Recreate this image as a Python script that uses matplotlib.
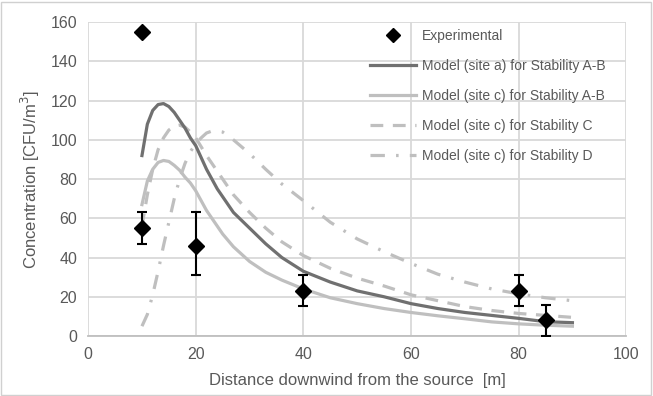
import numpy as np
import matplotlib
matplotlib.use("Agg")
import matplotlib.pyplot as plt
from matplotlib.lines import Line2D

plt.rcParams['font.family'] = ['Liberation Sans', 'DejaVu Sans']

# experimental points
exp_x = [10, 10, 20, 40, 80, 85]
exp_y = [155, 55, 46, 23, 23, 8]
exp_lo = [0, 8, 15, 7.5, 7.5, 8]
exp_hi = [0, 8, 17, 8, 8, 8]

# model curves
xa = [10, 11, 12, 13, 14, 15, 16, 17, 18, 19, 20, 21, 22, 23, 24, 25, 27, 30,
      33, 36, 40, 45, 50, 55, 60, 65, 70, 75, 80, 85, 90]
site_a_ab = [92, 108, 115, 118, 118.5, 117, 114, 110, 106, 101, 97, 91, 85, 80,
             75, 71, 63, 55, 47, 40, 33, 27.5, 23, 20, 16.5, 14, 12, 10.5, 9, 7.3, 6.8]
site_c_ab = [67, 79, 85, 88.5, 89.5, 89, 87, 84.5, 81, 78, 74, 69, 64, 60,
             56, 52, 45.5, 38, 32.5, 28.5, 24, 19.5, 16.5, 14, 12, 10.3, 8.8, 7.2, 6.2, 5.5, 5]
site_c_c = [56, 72, 85, 95, 101, 105, 107, 107.5, 106.5, 104, 101, 96.5, 92, 88,
            84, 80, 72, 63, 55, 48, 41, 34.5, 29.5, 25.5, 21, 18, 15, 13, 11.5, 10.5, 9.5]
site_c_d = [5, 11, 21, 33, 46, 58, 70, 80, 88, 94, 98, 101, 103.5, 104.5,
            104.5, 104, 100, 93, 85, 77.5, 69, 58, 49.5, 43, 37, 31.5, 27.5, 24, 21.5, 19.5, 18]

labels = ['Experimental',
          'Model (site a) for Stability A-B',
          'Model (site c) for Stability A-B',
          'Model (site c) for Stability C',
          'Model (site c) for Stability D']

txt = '#595959'
fig = plt.figure(figsize=(6.53, 3.96), dpi=100)
ax = fig.add_axes([0.135, 0.1515, 0.824, 0.7925])

ax.errorbar(exp_x, exp_y, yerr=[exp_lo, exp_hi], fmt='D', color='black',
            markersize=8, ecolor='black', elinewidth=1.5, capsize=3.5,
            capthick=1.5, zorder=5)
l1, = ax.plot(xa, site_a_ab, color='#707070', lw=2.3, zorder=4)
l2, = ax.plot(xa, site_c_ab, color='#bfbfbf', lw=2.3, zorder=3)
l3, = ax.plot(xa, site_c_c, color='#bfbfbf', lw=2.3, dashes=(4, 3), zorder=3)
l4, = ax.plot(xa, site_c_d, color='#bfbfbf', lw=2.3, dashes=(4.5, 3.5, 0.8, 3.5), zorder=3)
exp_h = Line2D([], [], ls='none', marker='D', color='black', markersize=7)

ax.set_xlim(0, 100)
ax.set_ylim(0, 160)
ax.set_xticks(range(0, 101, 20))
ax.set_yticks(range(0, 161, 20))
ax.grid(True, color='#d9d9d9', lw=1.3)
ax.set_axisbelow(True)
for s in ['top', 'right', 'left']:
    ax.spines[s].set_visible(False)
ax.spines['bottom'].set_color('#bfbfbf')
ax.spines['bottom'].set_linewidth(1.3)
ax.tick_params(length=0, labelsize=11.5, labelcolor=txt, pad=8)

ax.set_xlabel('Distance downwind from the source  [m]', fontsize=12, color=txt, labelpad=8)
ax.set_ylabel('Concentration [CFU/m$^3$]', fontsize=12, color=txt, labelpad=6)

leg = ax.legend([exp_h, l1, l2, l3, l4], labels, loc='upper left',
                bbox_to_anchor=(0.514, 0.995), frameon=False, fontsize=10,
                labelspacing=1.15, handlelength=3.3, handletextpad=0.4,
                borderaxespad=0, numpoints=1)
for t in leg.get_texts():
    t.set_color(txt)

fig.patches.append(plt.Rectangle((0.002, 0.003), 0.995, 0.993, transform=fig.transFigure,
                                 fill=False, edgecolor='#d0d0d0', lw=1))

fig.savefig('out.png', dpi=100)
